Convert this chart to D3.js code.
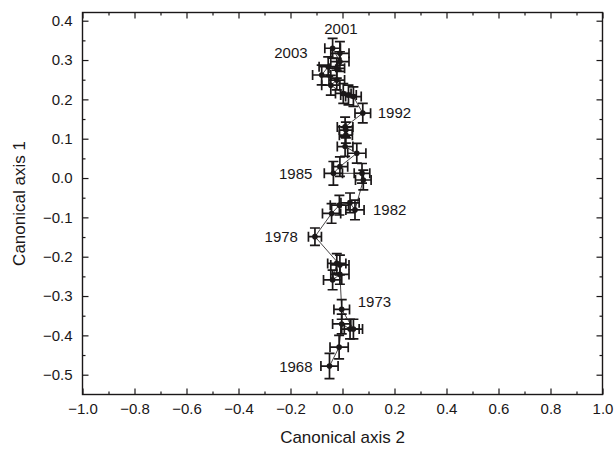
<!DOCTYPE html>
<html>
<head>
<meta charset="utf-8">
<script src="https://cdn.jsdelivr.net/npm/d3@7"></script>
<style>
  body { margin: 0; background: #fff; }
  svg { display: block; font-family: "Liberation Sans", Arial, sans-serif; }
</style>
</head>
<body>
<div id="chart"></div>
<script>
// yearly centroids on the two canonical axes, with error bars
var years = [1968, 1969, 1970, 1971, 1972, 1973, 1974, 1975, 1976, 1977, 1978,
             1979, 1980, 1981, 1982,
             1983, 1984, 1985, 1986, 1987, 1988, 1989, 1990, 1991, 1992,
             1993, 1994, 1995, 1996, 1997, 1998, 1999, 2000, 2001, 2002, 2003];
var axis2 = [-0.050, -0.013, -0.003, 0.029, 0.042, -0.003, -0.010, -0.038, -0.022, -0.010, -0.106,
             -0.042, -0.012, 0.029, 0.048,
             0.080, 0.075, -0.035, -0.010, 0.055, 0.010, 0.013, 0.013, 0.010, 0.078,
             0.042, 0.023, 0.003, -0.045, -0.022, -0.080, -0.055, -0.022, -0.010, -0.010, -0.038];
var axis1 = [-0.478, -0.430, -0.371, -0.384, -0.384, -0.334, -0.245, -0.259, -0.217, -0.221, -0.149,
             -0.090, -0.069, -0.063, -0.081,
             -0.005, 0.012, 0.012, 0.029, 0.063, 0.080, 0.109, 0.122, 0.130, 0.165,
             0.207, 0.211, 0.215, 0.236, 0.249, 0.262, 0.283, 0.279, 0.317, 0.296, 0.330];
var err2 = [0.033, 0.035, 0.035, 0.035, 0.035, 0.030, 0.035, 0.035, 0.035, 0.035, 0.025,
            0.035, 0.035, 0.035, 0.035,
            0.030, 0.030, 0.035, 0.030, 0.035, 0.030, 0.025, 0.025, 0.030, 0.030,
            0.030, 0.030, 0.030, 0.035, 0.030, 0.035, 0.035, 0.030, 0.035, 0.035, 0.030];
var err1 = [0.032, 0.030, 0.025, 0.025, 0.025, 0.025, 0.025, 0.025, 0.025, 0.025, 0.022,
            0.025, 0.025, 0.025, 0.025,
            0.025, 0.025, 0.030, 0.025, 0.025, 0.025, 0.020, 0.020, 0.025, 0.025,
            0.025, 0.025, 0.025, 0.025, 0.025, 0.025, 0.025, 0.025, 0.030, 0.025, 0.025];

var xTicks = [-1.0, -0.8, -0.6, -0.4, -0.2, 0.0, 0.2, 0.4, 0.6, 0.8, 1.0];
var yTicks = [-0.5, -0.4, -0.3, -0.2, -0.1, 0.0, 0.1, 0.2, 0.3, 0.4];
var labelledYears = [1968, 1973, 1978, 1982, 1985, 1992, 2001, 2003];

// where each year label sits relative to its point (px)
var labelPlace = {
    1968: { anchor: "end",    dx: -17, dy: 1 },
    1973: { anchor: "start",  dx: 16,  dy: -8 },
    1978: { anchor: "end",    dx: -17, dy: 0 },
    1982: { anchor: "start",  dx: 18,  dy: 0 },
    1985: { anchor: "end",    dx: -21, dy: 0 },
    1992: { anchor: "start",  dx: 15,  dy: 0 },
    2001: { anchor: "middle", dx: 1,   dy: -25 },
    2003: { anchor: "end",    dx: -25, dy: 5 }
};

var width = 615, height = 450;
var padL = 82.5, padR = 602.5, padT = 12.5, padB = 394.5;
var ink = "#1a1718";
var font = "Liberation Sans, Arial, sans-serif";

var points = years.map(function (y, i) {
    return { year: y, x: axis2[i], y: axis1[i], ex: err2[i], ey: err1[i] };
});

var x = d3.scaleLinear().domain([-1, 1]).range([padL, padR]);
var y = d3.scaleLinear().domain([-0.5, 0.4]).range([374.7, 20.7]);

var svg = d3.select("#chart").append("svg")
    .attr("width", width)
    .attr("height", height);

// inward ticks on all four sides
var fmt = d3.format(".1f");
var xMinor = d3.range(-0.9, 1.0, 0.2);
var yMinor = d3.range(-0.45, 0.4, 0.1);

function noDomain(g) { g.select(".domain").remove(); }

svg.append("g")
    .attr("transform", "translate(0," + padB + ")")
    .call(d3.axisBottom(x).tickValues(xTicks).tickFormat(fmt).tickSizeInner(-6).tickSizeOuter(0).tickPadding(9))
    .call(noDomain);
svg.append("g")
    .attr("transform", "translate(0," + padB + ")")
    .call(d3.axisBottom(x).tickValues(xMinor).tickFormat("").tickSizeInner(-3).tickSizeOuter(0))
    .call(noDomain);
svg.append("g")
    .attr("transform", "translate(0," + padT + ")")
    .call(d3.axisTop(x).tickValues(xTicks).tickFormat("").tickSizeInner(-6).tickSizeOuter(0))
    .call(noDomain);
svg.append("g")
    .attr("transform", "translate(0," + padT + ")")
    .call(d3.axisTop(x).tickValues(xMinor).tickFormat("").tickSizeInner(-3).tickSizeOuter(0))
    .call(noDomain);

svg.append("g")
    .attr("transform", "translate(" + padL + ",0)")
    .call(d3.axisLeft(y).tickValues(yTicks).tickFormat(fmt).tickSizeInner(-6).tickSizeOuter(0).tickPadding(10))
    .call(noDomain);
svg.append("g")
    .attr("transform", "translate(" + padL + ",0)")
    .call(d3.axisLeft(y).tickValues(yMinor).tickFormat("").tickSizeInner(-3).tickSizeOuter(0))
    .call(noDomain);
svg.append("g")
    .attr("transform", "translate(" + padR + ",0)")
    .call(d3.axisRight(y).tickValues(yTicks).tickFormat("").tickSizeInner(-6).tickSizeOuter(0))
    .call(noDomain);
svg.append("g")
    .attr("transform", "translate(" + padR + ",0)")
    .call(d3.axisRight(y).tickValues(yMinor).tickFormat("").tickSizeInner(-3).tickSizeOuter(0))
    .call(noDomain);

svg.selectAll(".tick line").attr("stroke", ink).attr("stroke-width", 1.2);
svg.selectAll(".tick text")
    .style("fill", ink)
    .style("font-size", "15px")
    .style("font-family", font);

// frame
svg.append("rect")
    .attr("x", padL).attr("y", padT)
    .attr("width", padR - padL).attr("height", padB - padT)
    .attr("fill", "none")
    .attr("stroke", ink)
    .attr("stroke-width", 1.4);

// axis titles
svg.append("text")
    .attr("x", (padL + padR) / 2)
    .attr("y", 443)
    .attr("text-anchor", "middle")
    .style("fill", ink)
    .style("font-size", "17px")
    .style("font-family", font)
    .text("Canonical axis 2");

svg.append("text")
    .attr("transform", "translate(25," + ((padT + padB) / 2) + ") rotate(-90)")
    .attr("text-anchor", "middle")
    .style("fill", ink)
    .style("font-size", "17px")
    .style("font-family", font)
    .text("Canonical axis 1");

// trajectory line
var line = d3.line()
    .x(function (d) { return x(d.x); })
    .y(function (d) { return y(d.y); });

svg.append("path")
    .datum(points)
    .attr("d", line)
    .attr("fill", "none")
    .attr("stroke", ink)
    .attr("stroke-width", 0.8);

// error bars
var cap = 5;
svg.append("g")
    .attr("stroke", ink)
    .attr("stroke-width", 1.7)
    .attr("fill", "none")
    .selectAll("path")
    .data(points)
    .join("path")
    .attr("d", function (d) {
        var cx = x(d.x), cy = y(d.y);
        var x0 = x(d.x - d.ex), x1 = x(d.x + d.ex);
        var y0 = y(d.y - d.ey), y1 = y(d.y + d.ey);
        return "M" + x0 + "," + cy + "H" + x1 +
            "M" + x0 + "," + (cy - cap) + "V" + (cy + cap) +
            "M" + x1 + "," + (cy - cap) + "V" + (cy + cap) +
            "M" + cx + "," + y0 + "V" + y1 +
            "M" + (cx - cap) + "," + y0 + "H" + (cx + cap) +
            "M" + (cx - cap) + "," + y1 + "H" + (cx + cap);
    });

svg.append("g")
    .selectAll("circle")
    .data(points)
    .join("circle")
    .attr("cx", function (d) { return x(d.x); })
    .attr("cy", function (d) { return y(d.y); })
    .attr("r", 2.8)
    .attr("fill", ink);

// year labels
svg.append("g")
    .selectAll("text")
    .data(points.filter(function (d) { return labelledYears.indexOf(d.year) >= 0; }))
    .join("text")
    .attr("x", function (d) { return x(d.x) + labelPlace[d.year].dx; })
    .attr("y", function (d) { return y(d.y) + labelPlace[d.year].dy; })
    .attr("dy", "0.35em")
    .attr("text-anchor", function (d) { return labelPlace[d.year].anchor; })
    .style("fill", ink)
    .style("font-size", "15px")
    .style("font-family", font)
    .text(function (d) { return d.year; });
</script>
</body>
</html>
